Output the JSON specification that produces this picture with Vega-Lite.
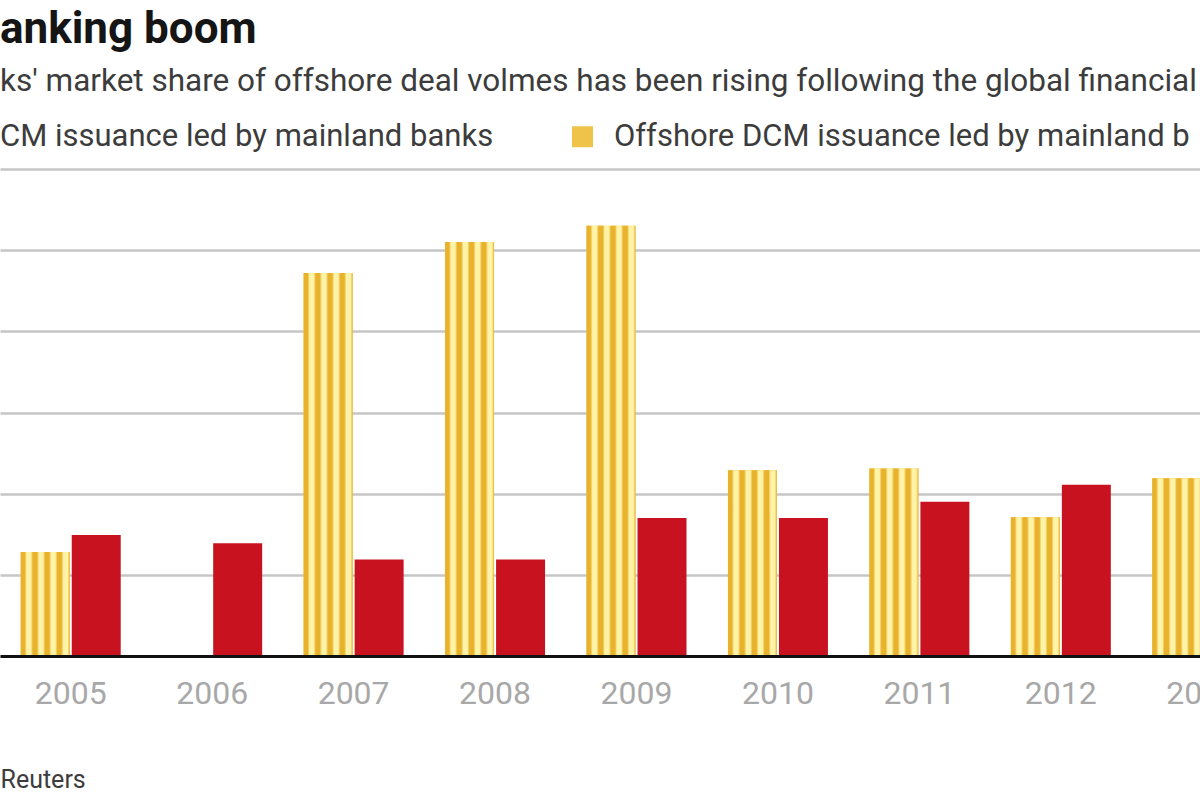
{
  "$schema": "https://vega.github.io/schema/vega-lite/v6.json",
  "width": 1200,
  "height": 487,
  "autosize": {"type": "none"},
  "padding": {"left": 0, "top": 169, "right": 0, "bottom": 144},
  "background": "white",
  "title": {
    "text": "anking boom",
    "subtitle": "ks' market share of offshore deal volmes has been rising following the global financial",
    "anchor": "start",
    "frame": "group",
    "orient": "top",
    "font": "Roboto",
    "fontSize": 44,
    "fontWeight": "bold",
    "color": "#151515",
    "subtitleFont": "Roboto",
    "subtitleFontSize": 31.5,
    "subtitleColor": "#3c3c3c",
    "subtitlePadding": 14,
    "offset": 24
  },
  "data": {
    "values": [
      {"year": "2005", "series": "Offshore", "value": 1.28},
      {"year": "2005", "series": "Onshore", "value": 1.49},
      {"year": "2006", "series": "Onshore", "value": 1.39},
      {"year": "2007", "series": "Offshore", "value": 4.72},
      {"year": "2007", "series": "Onshore", "value": 1.19},
      {"year": "2008", "series": "Offshore", "value": 5.10},
      {"year": "2008", "series": "Onshore", "value": 1.19},
      {"year": "2009", "series": "Offshore", "value": 5.30},
      {"year": "2009", "series": "Onshore", "value": 1.70},
      {"year": "2010", "series": "Offshore", "value": 2.29},
      {"year": "2010", "series": "Onshore", "value": 1.70},
      {"year": "2011", "series": "Offshore", "value": 2.31},
      {"year": "2011", "series": "Onshore", "value": 1.90},
      {"year": "2012", "series": "Offshore", "value": 1.71},
      {"year": "2012", "series": "Onshore", "value": 2.11},
      {"year": "2013", "series": "Offshore", "value": 2.19}
    ]
  },
  "encoding": {
    "x": {
      "field": "year",
      "type": "ordinal",
      "scale": {"range": [0, 1273], "paddingInner": 0.293, "paddingOuter": 0.1465},
      "axis": {
        "title": "Reuters",
        "titleAlign": "left",
        "titleAnchor": "start",
        "titleX": 0,
        "titleY": 131,
        "titleBaseline": "alphabetic",
        "titleFont": "Roboto",
        "titleFontSize": 25,
        "titleFontWeight": "normal",
        "titleColor": "#3c3c3c",
        "labelFont": "Roboto",
        "labelFontSize": 32,
        "labelColor": "#a8a8a8",
        "labelPadding": 22,
        "labelAngle": 0,
        "ticks": false,
        "grid": false,
        "domainColor": "#111111",
        "domainWidth": 3,
        "zindex": 1
      }
    },
    "xOffset": {
      "field": "series",
      "type": "nominal",
      "scale": {"domain": ["Offshore", "Onshore"], "paddingInner": 0.04}
    },
    "y": {
      "field": "value",
      "type": "quantitative",
      "scale": {"domain": [0, 6], "nice": false},
      "axis": {
        "values": [0, 1, 2, 3, 4, 5, 6],
        "labels": false,
        "ticks": false,
        "domain": false,
        "title": null,
        "grid": true,
        "gridColor": "#c6c6c6",
        "gridWidth": 2.5
      }
    }
  },
  "layer": [
    {
      "mark": {"type": "bar"},
      "encoding": {
        "color": {
          "field": "series",
          "type": "nominal",
          "scale": {"domain": ["Onshore", "Offshore"], "range": ["#c8121f", "#efc24a"]},
          "legend": {
            "orient": "none",
            "legendX": -47,
            "legendY": -48,
            "direction": "horizontal",
            "title": null,
            "symbolType": "square",
            "symbolSize": 440,
            "symbolStrokeWidth": 0,
            "symbolOpacity": 1,
            "labelFont": "Roboto",
            "labelFontSize": 31,
            "labelColor": "#3c3c3c",
            "labelOffset": 16,
            "labelLimit": 900,
            "columnPadding": 73,
            "padding": 0,
            "labelExpr": "datum.label == 'Onshore' ? 'CM issuance led by mainland banks' : 'Offshore DCM issuance led by mainland b'"
          }
        }
      }
    },
    {
      "transform": [{"filter": "datum.series == 'Offshore'"}],
      "mark": {
        "type": "bar",
        "fill": {
          "gradient": "linear",
          "x1": 0, "y1": 0, "x2": 1, "y2": 0,
          "stops": [
            {"offset": 0, "color": "#e9b22c"},
            {"offset": 0.08, "color": "#e9b22c"},
            {"offset": 0.125, "color": "#fff3a8"},
            {"offset": 0.205, "color": "#fff3a8"},
            {"offset": 0.25, "color": "#e9b22c"},
            {"offset": 0.33, "color": "#e9b22c"},
            {"offset": 0.375, "color": "#fff3a8"},
            {"offset": 0.455, "color": "#fff3a8"},
            {"offset": 0.5, "color": "#e9b22c"},
            {"offset": 0.58, "color": "#e9b22c"},
            {"offset": 0.625, "color": "#fff3a8"},
            {"offset": 0.705, "color": "#fff3a8"},
            {"offset": 0.75, "color": "#e9b22c"},
            {"offset": 0.83, "color": "#e9b22c"},
            {"offset": 0.875, "color": "#fff3a8"},
            {"offset": 0.955, "color": "#fff3a8"},
            {"offset": 1, "color": "#e9b22c"}
          ]
        }
      }
    }
  ],
  "config": {"view": {"stroke": null}}
}
